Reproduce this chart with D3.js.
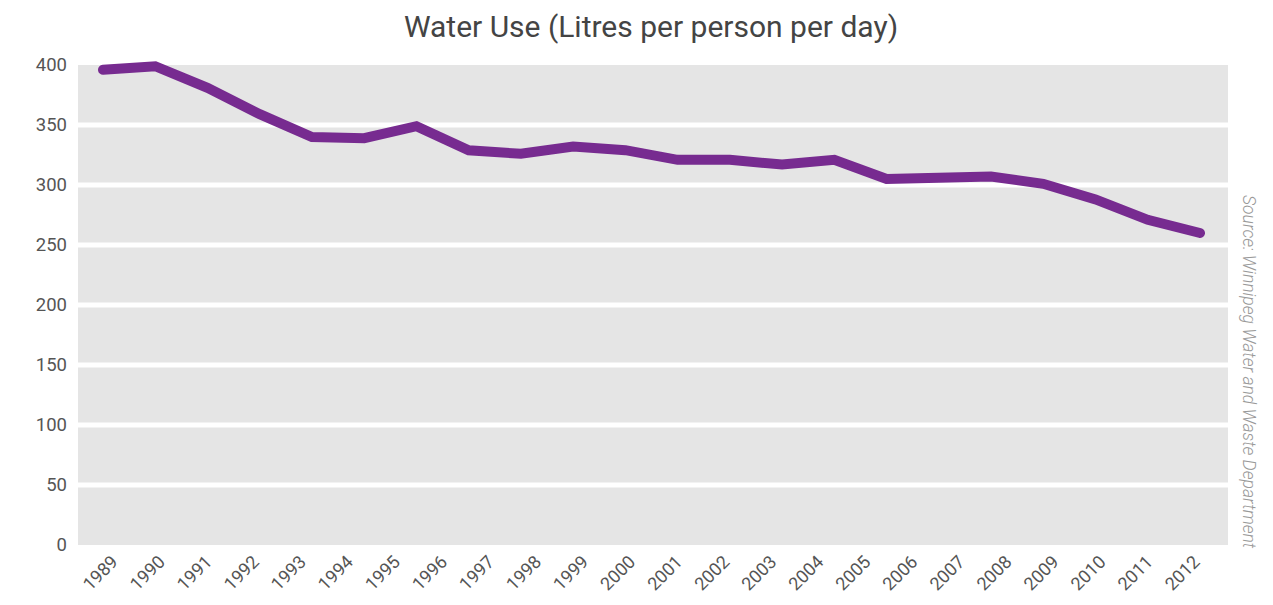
<!DOCTYPE html>
<html lang="en">
<head>
<meta charset="UTF-8">
<title>Water Use</title>
<script src="https://cdn.jsdelivr.net/npm/d3@7"></script>
<style>
    html, body {
        margin: 0;
        padding: 0;
        background: #fff;
    }
    svg text {
        font-family: Roboto, "Open Sans", sans-serif;
    }
</style>
</head>
<body>
<script>
// data
const years = d3.range(1989, 2013).map(String)
const usage = [396, 399, 381, 359, 340, 339, 349, 329, 326, 332, 329, 321,
               321, 317, 321, 305, 306, 307, 301, 288, 271, 260]
const yTicks = [0, 50, 100, 150, 200, 250, 300, 350, 400]

const W = 1273, H = 605
const plot = { left: 78, right: 1228, top: 65, bottom: 545 }

const svg = d3.select('body')
    .append('svg')
    .attr('width', W)
    .attr('height', H)

const y = d3.scaleLinear()
    .domain([0, 400])
    .range([plot.bottom, plot.top])

// line points are spread over the width, the year labels are spaced on their own
const x = d3.scalePoint()
    .domain(d3.range(usage.length))
    .range([103, 1200])

const xLab = d3.scalePoint()
    .domain(years)
    .range([103, 1185])

// grey background
svg.append('rect')
    .attr('x', plot.left)
    .attr('y', plot.top)
    .attr('width', plot.right - plot.left)
    .attr('height', plot.bottom - plot.top)
    .attr('fill', '#e5e5e5')

// white grid lines
svg.append('g')
    .selectAll('line')
    .data(yTicks.filter(d => d > 0 && d < 400))
    .join('line')
    .attr('x1', plot.left)
    .attr('x2', plot.right)
    .attr('y1', d => y(d))
    .attr('y2', d => y(d))
    .attr('stroke', '#fff')
    .attr('stroke-width', 5)

// y labels
svg.append('g')
    .selectAll('text')
    .data(yTicks)
    .join('text')
    .attr('x', 67)
    .attr('y', d => y(d))
    .attr('text-anchor', 'end')
    .attr('dominant-baseline', 'central')
    .attr('fill', '#555')
    .attr('font-size', 18.5)
    .text(d => d)

// x labels, rotated
svg.append('g')
    .selectAll('text')
    .data(years)
    .join('text')
    .attr('transform', d => `translate(${xLab(d) + 16},${563}) rotate(-45)`)
    .attr('text-anchor', 'end')
    .attr('fill', '#555')
    .attr('font-size', 18)
    .text(d => d)

// the line
const line = d3.line()
    .x((d, i) => x(i))
    .y(d => y(d))

svg.append('path')
    .datum(usage)
    .attr('d', line)
    .attr('fill', 'none')
    .attr('stroke', '#772b90')
    .attr('stroke-width', 10)
    .attr('stroke-linejoin', 'miter')
    .attr('stroke-linecap', 'round')

// title
svg.append('text')
    .attr('x', 651)
    .attr('y', 37)
    .attr('text-anchor', 'middle')
    .attr('fill', '#444')
    .attr('font-size', 30)
    .text('Water Use (Litres per person per day)')

// source, vertical on the right
svg.append('text')
    .attr('transform', 'translate(1243,195) rotate(90)')
    .attr('fill', '#999')
    .attr('font-size', 17.5)
    .attr('font-style', 'italic')
    .attr('font-weight', 300)
    .text('Source: Winnipeg Water and Waste Department')
</script>
</body>
</html>
